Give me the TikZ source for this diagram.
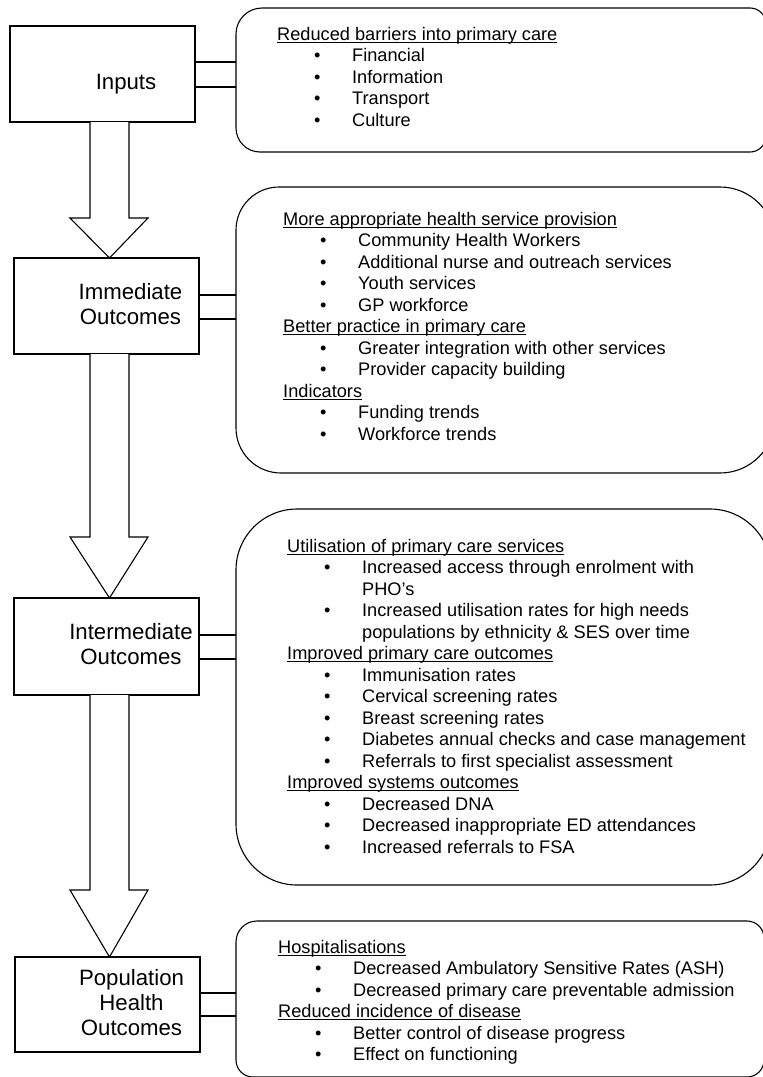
\documentclass[tikz,border=0pt]{standalone}
\usepackage{fontspec}
\setmainfont{Liberation Sans}
\usetikzlibrary{calc}
\newcommand{\hd}[1]{\setbox0=\hbox{#1}\rlap{\rule[-2.6bp]{\wd0}{1.1bp}}\box0}
\newcommand{\itm}[1]{\hspace*{37bp}\makebox[38bp][l]{•}#1}
\newcommand{\cnt}[1]{\hspace*{75bp}#1}
% rounded outline: L T R B rTL rTR rBR rBL
\newcommand{\rrect}[8]{%
 \draw[outl] ({#1+#5},#2) -- ({#3-#6},#2)
   .. controls ({#3-0.4477*#6},#2) and (#3,{#2+0.4477*#6}) .. (#3,{#2+#6})
   -- (#3,{#4-#7})
   .. controls (#3,{#4-0.4477*#7}) and ({#3-0.4477*#7},#4) .. ({#3-#7},#4)
   -- ({#1+#8},#4)
   .. controls ({#1+0.4477*#8},#4) and (#1,{#4-0.4477*#8}) .. (#1,{#4-#8})
   -- (#1,{#2+#5})
   .. controls (#1,{#2+0.4477*#5}) and ({#1+0.4477*#5},#2) .. ({#1+#5},#2) -- cycle;}
% block arrow from upper node to lower node, head base at y
\newcommand{\blockarr}[3]{%
 \path (xsl |- #1.south) coordinate (p1) (xsr |- #1.south) coordinate (p2)
       (xax |- #2.north) coordinate (tip);
 \draw[outl,fill=white] (p1) -- (xsl |- 0,#3) -- (xhl |- 0,#3) -- (tip)
   -- (xhr |- 0,#3) -- (xsr |- 0,#3) -- (p2);}
\tikzset{
  outl/.style={draw=black,line width=1.1bp,line join=miter},
  stage/.style={draw=black,line width=1.1bp,fill=white,minimum width=185bp,
    inner sep=0pt,outer sep=0pt},
  area/.style={inner sep=0pt,outer sep=0pt},
  lbl/.style={inner sep=0pt,anchor=base,font=\fontsize{22.2bp}{25.3bp}\selectfont},
  lst/.style={inner sep=0pt,anchor=base west,font=\fontsize{18.2bp}{21.5bp}\selectfont},
  stub/.style={draw=black,line width=1.1bp}
}
\begin{document}
\begin{tikzpicture}[x=1bp,y=-1bp]
\useasboundingbox (0,0) rectangle (763,1077);
\fill[white] (0,0) rectangle (763,1077);
\clip (0,0) rectangle (763,1077);
\coordinate (xsl) at (90,0);
\coordinate (xsr) at (129,0);
\coordinate (xhl) at (70,0);
\coordinate (xhr) at (148,0);
\coordinate (xax) at (109.5,0);

% stage boxes
\node[stage,minimum height=96bp] (inputs) at (102.5,74) {};
\node[stage,minimum height=96bp] (immediate) at (106.5,306) {};
\node[stage,minimum height=97bp] (intermediate) at (106.5,646.5) {};
\node[stage,minimum height=95bp] (population) at (107.5,1004.5) {};

\node[lbl] (inputsT) at (126,89) {\begin{tabular}[t]{@{}c@{}}Inputs\end{tabular}};
\node[lbl] (immediateT) at (130.5,299) {\begin{tabular}[t]{@{}c@{}}Immediate\\Outcomes\end{tabular}};
\node[lbl] (intermediateT) at (131,639) {\begin{tabular}[t]{@{}c@{}}Intermediate\\Outcomes\end{tabular}};
\node[lbl] (populationT) at (131.5,985) {\begin{tabular}[t]{@{}c@{}}Population\\Health\\Outcomes\end{tabular}};

% rounded areas (named) and their outlines
\node[area,minimum width=530bp,minimum height=144bp] (barriers) at (501,80) {};
\node[area,minimum width=539bp,minimum height=286bp] (provision) at (505.5,330) {};
\node[area,minimum width=535bp,minimum height=376bp] (utilisation) at (503.5,697) {};
\node[area,minimum width=528bp,minimum height=156bp] (hospital) at (500,999) {};
\rrect{236}{8}{766}{152}{26}{16}{16}{24}
\rrect{236}{187}{775}{473}{43}{55}{55}{45}
\rrect{236}{509}{771}{885}{61}{61}{61}{61}
\rrect{236}{921}{764}{1077}{21}{17}{17}{17}

% stubs between stage boxes and areas
\path (inputs.east) ++(0,-12) coordinate (a1) (inputs.east) ++(0,13) coordinate (a2);
\draw[stub] (a1) -- (a1 -| barriers.west);
\draw[stub] (a2) -- (a2 -| barriers.west);
\path (immediate.east) ++(0,-11) coordinate (b1) (immediate.east) ++(0,13) coordinate (b2);
\draw[stub] (b1) -- (b1 -| provision.west);
\draw[stub] (b2) -- (b2 -| provision.west);
\path (intermediate.east) ++(0,-11.5) coordinate (c1) (intermediate.east) ++(0,12.5) coordinate (c2);
\draw[stub] (c1) -- (c1 -| utilisation.west);
\draw[stub] (c2) -- (c2 -| utilisation.west);
\path (population.east) ++(0,-11.5) coordinate (d1) (population.east) ++(0,11.5) coordinate (d2);
\draw[stub] (d1) -- (d1 -| hospital.west);
\draw[stub] (d2) -- (d2 -| hospital.west);

% block arrows
\blockarr{inputs}{immediate}{218}
\blockarr{immediate}{intermediate}{537}
\blockarr{intermediate}{population}{890}

% lists
\node[lst] (barriersT) at (277,40) {\begin{tabular}[t]{@{}l@{}}
\hd{Reduced barriers into primary care}\\
\itm{Financial}\\
\itm{Information}\\
\itm{Transport}\\
\itm{Culture}
\end{tabular}};
\node[lst] (provisionT) at (283,225) {\begin{tabular}[t]{@{}l@{}}
\hd{More appropriate health service provision}\\
\itm{Community Health Workers}\\
\itm{Additional nurse and outreach services}\\
\itm{Youth services}\\
\itm{GP workforce}\\
\hd{Better practice in primary care}\\
\itm{Greater integration with other services}\\
\itm{Provider capacity building}\\
\hd{Indicators}\\
\itm{Funding trends}\\
\itm{Workforce trends}
\end{tabular}};
\node[lst] (utilisationT) at (287,552) {\begin{tabular}[t]{@{}l@{}}
\hd{Utilisation of primary care services}\\
\itm{Increased access through enrolment with}\\
\cnt{PHO’s}\\
\itm{Increased utilisation rates for high needs}\\
\cnt{populations by ethnicity \& SES over time}\\
\hd{Improved primary care outcomes}\\
\itm{Immunisation rates}\\
\itm{Cervical screening rates}\\
\itm{Breast screening rates}\\
\itm{Diabetes annual checks and case management}\\
\itm{Referrals to first specialist assessment}\\
\hd{Improved systems outcomes}\\
\itm{Decreased DNA}\\
\itm{Decreased inappropriate ED attendances}\\
\itm{Increased referrals to FSA}
\end{tabular}};
\node[lst] (hospitalT) at (278,953) {\begin{tabular}[t]{@{}l@{}}
\hd{Hospitalisations}\\
\itm{Decreased Ambulatory Sensitive Rates (ASH)}\\
\itm{Decreased primary care preventable admission}\\
\hd{Reduced incidence of disease}\\
\itm{Better control of disease progress}\\
\itm{Effect on functioning}
\end{tabular}};
\end{tikzpicture}
\end{document}
